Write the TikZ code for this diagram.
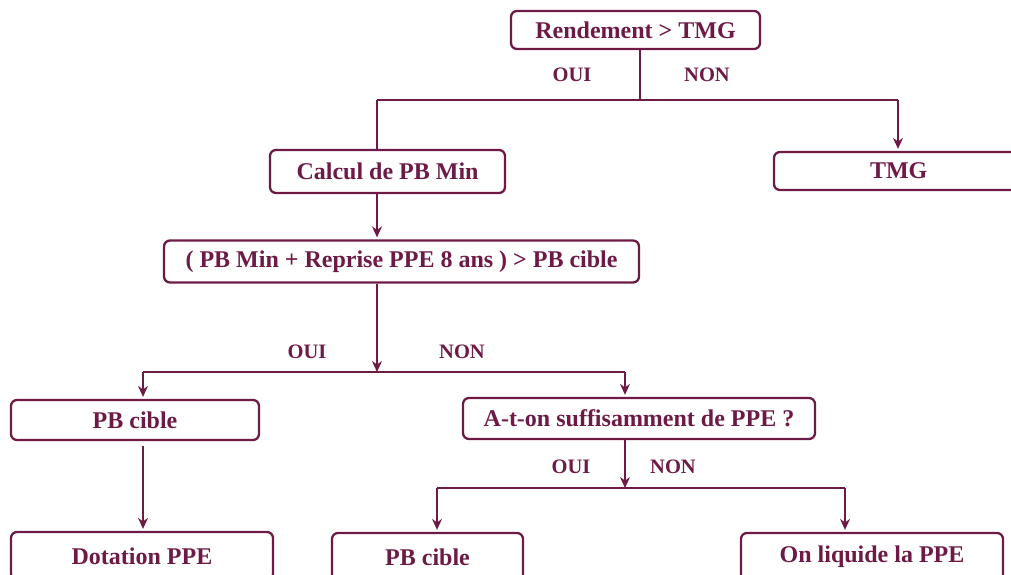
\documentclass[tikz,border=0pt]{standalone}
\usepackage{fontspec}
\setmainfont{Liberation Serif}
\usetikzlibrary{arrows.meta}
\definecolor{wine}{RGB}{110,26,70}
\begin{document}
\begin{tikzpicture}[x=1pt,y=-1pt,
  box/.style={draw=wine, line width=2.3pt, rounded corners=6pt, text=wine,
    font=\fontsize{24}{28}\selectfont\bfseries, inner sep=0pt, anchor=center},
  lbl/.style={text=wine, font=\fontsize{20.5}{24}\selectfont\bfseries, inner sep=0pt},
  link/.style={draw=wine, line width=1.3pt},
  arr/.style={link, -{Stealth[length=11pt,width=10pt]}, shorten >=2pt}]
\clip (0,0) rectangle (1011,575);
\useasboundingbox (0,0) rectangle (1011,575);

% decision and result boxes
\node[box, minimum width=249pt, minimum height=38pt] (top) at (635.5,30) {Rendement > TMG};
\node[box, minimum width=235pt, minimum height=43pt] (calc) at (387.5,171.5) {Calcul de PB Min};
\node[box, minimum width=256pt, minimum height=38pt, text width=256pt, align=left] (tmg) at (902,171) {\hspace{96pt}TMG};
\node[box, minimum width=475pt, minimum height=42pt] (cond) at (401.5,261.5) {( PB Min + Reprise PPE 8 ans ) > PB cible};
\node[box, minimum width=248pt, minimum height=40pt] (pb1) at (135,420) {PB cible};
\node[box, minimum width=352pt, minimum height=41pt] (ask) at (639,418.5) {A-t-on suffisamment de PPE ?};
\node[box, minimum width=262pt, minimum height=48pt] (dot) at (142,556) {Dotation PPE};
\node[box, minimum width=191pt, minimum height=48pt] (pb2) at (427.5,557) {PB cible};
\node[box, minimum width=262pt, minimum height=48pt] (liq) at (872,557) {On liquide la PPE};

% branch labels
\node[lbl] (o1) at (572,75) {OUI};
\node[lbl] (n1) at (707,75) {NON};
\node[lbl] (o2) at (307,352) {OUI};
\node[lbl] (n2) at (462,352) {NON};
\node[lbl] (o3) at (571,467) {OUI};
\node[lbl] (n3) at (673,467) {NON};

% junction points
\coordinate (j1) at (640,100);
\coordinate (j1l) at (377,100);
\coordinate (j1r) at (898,100);
\coordinate (j2) at (377,372);
\coordinate (j2l) at (143,372);
\coordinate (j2r) at (625,372);
\coordinate (j3) at (625,488);
\coordinate (j3l) at (437,488);
\coordinate (j3r) at (845,488);

% first split
\draw[link] (j1 |- top.south) -- (j1);
\draw[link] (j1l) -- (j1r);
\draw[link] (j1l) -- (j1l |- calc.north);
\draw[arr] (j1r) -- (j1r |- tmg.north);
\draw[arr] (j1l |- calc.south) -- (j1l |- cond.north);

% second split
\draw[arr, shorten >=0pt] (j2 |- cond.south) -- (j2);
\draw[link] (j2l) -- (j2r);
\draw[arr] (j2l) -- (j2l |- pb1.north);
\draw[arr] (j2r) -- (j2r |- ask.north);
\draw[arr, shorten <=5pt] (j2l |- pb1.south) -- (j2l |- dot.north);

% third split
\draw[arr, shorten >=0pt] (j3 |- ask.south) -- (j3);
\draw[link] (j3l) -- (j3r);
\draw[arr] (j3l) -- (j3l |- pb2.north);
\draw[arr] (j3r) -- (j3r |- liq.north);
\end{tikzpicture}
\end{document}
